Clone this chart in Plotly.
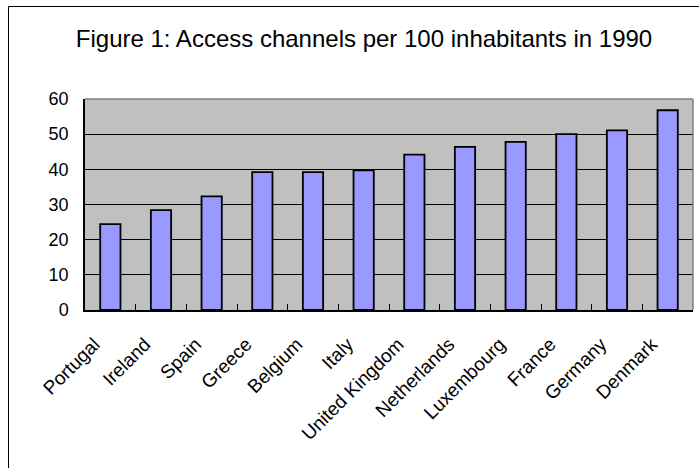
import plotly.graph_objects as go

countries = ["Portugal", "Ireland", "Spain", "Greece", "Belgium", "Italy",
             "United Kingdom", "Netherlands", "Luxembourg", "France", "Germany", "Denmark"]
values = [24.4, 28.4, 32.3, 39.2, 39.2, 39.7, 44.2, 46.4, 47.8, 50.0, 51.1, 56.8]
y_ticks = [0, 10, 20, 30, 40, 50, 60]
title_text = "Figure 1: Access channels per 100 inhabitants in 1990"

FONT = "Liberation Sans, Arial, sans-serif"

fig = go.Figure(go.Bar(
    x=countries, y=values,
    marker=dict(color="#9999FF", line=dict(color="black", width=1.8)),
    width=0.4,
))

L, R, T, B = 85, 6, 99, 158
W, H = 699, 468
pw, ph = W - L - R, H - T - B

def px(x):
    return (x - L) / pw

def py(y):
    return (H - B - y) / ph

fig.update_layout(
    width=W, height=H,
    margin=dict(l=L, r=R, t=T, b=B),
    paper_bgcolor="white",
    plot_bgcolor="#C0C0C0",
    showlegend=False,
    font=dict(family=FONT, color="black"),
    title=dict(text=title_text, x=364 / W, xanchor="center",
               y=1 - 39 / H, yanchor="middle",
               font=dict(size=24, family=FONT, color="black")),
    shapes=[
        # outer chart frame
        dict(type="rect", xref="paper", yref="paper",
             x0=px(8.5), x1=px(720), y0=py(490), y1=py(6.5),
             line=dict(color="black", width=1), fillcolor="rgba(0,0,0,0)", layer="below"),
        # plot area gray border (top/right)
        dict(type="line", xref="paper", yref="paper", x0=0, x1=1, y0=1, y1=1,
             line=dict(color="#808080", width=1.5)),
        dict(type="line", xref="paper", yref="paper", x0=1, x1=1, y0=0, y1=1,
             line=dict(color="#808080", width=1.5)),
    ],
)

fig.update_xaxes(
    type="category",
    tickangle=-45,
    tickfont=dict(size=19, family=FONT, color="black"),
    showline=True, linecolor="black", linewidth=1.5,
    ticks="inside", tickson="boundaries", ticklen=6, tickcolor="black", tickwidth=1,
    showgrid=False,
    ticklabelstandoff=14,
    ticklabelshift=-16,
    range=[-0.5, len(countries) - 0.5],
)

fig.update_yaxes(
    range=[0, 60],
    tickvals=y_ticks,
    ticktext=[str(v) for v in y_ticks],
    tickfont=dict(size=18, family=FONT, color="black"),
    showline=True, linecolor="black", linewidth=1.5,
    ticks="inside", ticklen=4, tickcolor="black",
    showgrid=True, gridcolor="black", gridwidth=1,
    zeroline=False,
    ticklabelstandoff=11,
)

fig.write_html("out.html")
